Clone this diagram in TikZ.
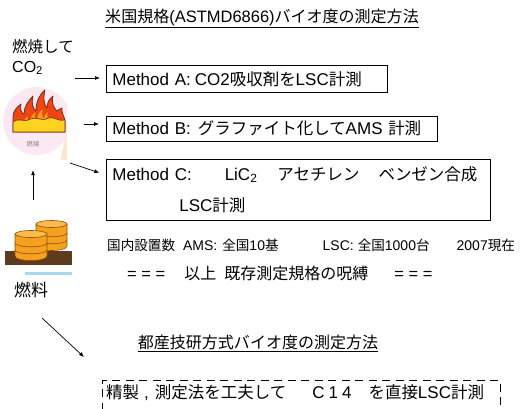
\documentclass[tikz,border=0pt]{standalone}
\usepackage{fontspec}
\setmainfont{Liberation Sans}
\newfontfamily\jpfont{Noto Sans CJK JP}[Scale=0.97]
\usepackage{xcolor}
\usetikzlibrary{arrows.meta,positioning}

\definecolor{flamered}{HTML}{F04412}
\definecolor{flameorange}{HTML}{FA9E1A}
\definecolor{flameyellow}{HTML}{FFD21F}
\definecolor{flameedge}{HTML}{6E3020}
\definecolor{blush}{HTML}{FCE8F3}
\definecolor{peach}{HTML}{FDE6CC}
\definecolor{barrel}{HTML}{F5A01E}
\definecolor{barreltop}{HTML}{FABB4A}
\definecolor{barreldark}{HTML}{8E5206}
\definecolor{soil}{HTML}{5E3B1F}
\definecolor{water}{HTML}{A6DAEA}

% outline of the fire, tips leaning right
\newcommand{\fireoutline}{(13,132) -- (13,117) .. controls (13,111) and (17,107) .. (21,104)
  .. controls (20,109) and (21,113) .. (24,114) .. controls (24,107) and (28,101) .. (33,96)
  .. controls (31,103) and (33,109) .. (36,111) .. controls (36,102) and (39,95) .. (45,90)
  .. controls (43,98) and (44,105) .. (47,108) .. controls (47,103) and (49,99) .. (53,96)
  .. controls (51,103) and (54,108) .. (57,111) .. controls (58,110) and (60,109) .. (62,108)
  .. controls (61,113) and (65,117) .. (65,122) -- (65,132) -- cycle}

\tikzset{
  heading/.style={font=\fontsize{16.5}{20}\selectfont, inner sep=0pt},
  methodbox/.style={draw, line width=0.8pt, inner xsep=6pt, inner ysep=0pt,
    align=left, font=\fontsize{17}{31}\selectfont},
  note/.style={font=\fontsize{14}{16}\selectfont, inner sep=0pt, anchor=west},
  feed/.style={-{Latex[length=5pt,width=4pt]}, line width=0.7pt},
  dashbox/.style={draw, line width=0.8pt, dash pattern=on 8pt off 5.5pt},
}

\begin{document}
\begin{tikzpicture}[>=Stealth, x=1pt, y=-1pt]
\useasboundingbox (0,0) rectangle (526,408);
\clip (0,0) rectangle (526,408);

% US standard heading
\node[heading] (us-title) at (262,18)
  {\underline{{\jpfont 米国規格}(ASTMD6866){\jpfont バイオ度の測定方法}}};

% burning picture
\begin{scope}
  \clip (0,80) rectangle (67,160);
  \fill[blush] (37,121) circle (34);
  \fill[peach] (61,160) .. controls (62,150) and (64,142) .. (67,136) -- (67,160) -- cycle;
\end{scope}
\draw[flameedge, fill=flamered, line width=0.8pt, line join=round] \fireoutline;
\begin{scope}[shift={(39,132)}, xscale=0.62, yscale=0.55, shift={(-39,-132)}]
  \fill[flameorange] \fireoutline;
\end{scope}
\draw[flameedge, fill=flameyellow, line width=0.7pt]
  (13,132) -- (13,122) .. controls (19,117) and (24,123) .. (30,119)
  .. controls (36,116) and (42,122) .. (48,118) .. controls (54,116) and (59,122) .. (65,120)
  -- (65,132) -- cycle;
\node[font=\fontsize{6.5}{7}\selectfont\jpfont, text=gray] (burn-tag) at (33,144) {燃焼};
\node[minimum width=66pt, minimum height=70pt, inner sep=0pt] (flame) at (33,121) {};

\node[font=\fontsize{16}{20}\selectfont, align=left, anchor=north west, inner sep=0pt]
  (co2) at (12,39) {{\jpfont 燃焼して}\\CO\textsubscript{2}};

% fuel barrels
\fill[soil] (5,251) rectangle (72,265);
\fill[water] (25,272) rectangle (72,275);
\draw[barreldark, fill=barrel, line width=0.6pt] (36,224) -- (36,246)
  .. controls (36,252) and (67,252) .. (67,246) -- (67,224) -- cycle;
\draw[barreldark, line width=0.6pt] (36,233) .. controls (36,238) and (67,238) .. (67,233)
  (36,240) .. controls (36,245) and (67,245) .. (67,240);
\draw[barreldark, fill=barreltop, line width=0.6pt] (51.5,224) ellipse [x radius=15.5, y radius=3.5];
\draw[barreldark, fill=barrel, line width=0.6pt] (15,234) -- (15,256)
  .. controls (15,262) and (47,262) .. (47,256) -- (47,234) -- cycle;
\draw[barreldark, line width=0.6pt] (15,243) .. controls (15,248) and (47,248) .. (47,243)
  (15,250) .. controls (15,255) and (47,255) .. (47,250);
\draw[barreldark, fill=barreltop, line width=0.6pt] (31,234) ellipse [x radius=16, y radius=3.5];
\node[minimum width=66pt, minimum height=50pt, inner sep=0pt] (barrels) at (33,245) {};
\node[font=\fontsize{17.5}{20}\selectfont\jpfont, inner sep=0pt] (fuel) at (31,290) {燃料};

% existing methods
\node[methodbox, anchor=north west, text width=269pt, minimum height=27pt] (meth-a) at (106,65)
  {Method A:\hspace{4pt}CO2{\jpfont 吸収剤を}LSC{\jpfont 計測}};
\node[methodbox, below=23pt of meth-a.south west, anchor=north west, text width=319pt,
  minimum height=25pt] (meth-b)
  {Method B:\hspace{7pt}{\jpfont グラファイト化して}AMS {\jpfont 計測}};
\node[methodbox, below=17pt of meth-b.south west, anchor=north west, text width=372pt,
  minimum height=61pt] (meth-c)
  {Method C:\hspace{33pt}LiC\textsubscript{2}\hspace{20pt}{\jpfont アセチレン}\hspace{19pt}{\jpfont ベンゼン合成}\\
   \hspace*{67pt}LSC{\jpfont 計測}};

\coordinate (a-tail) at (75,78);
\coordinate (b-tail) at (84,124);
\coordinate (c-tail) at (70,163);
\draw[feed, shorten >=6pt] (a-tail) -- (meth-a.west |- a-tail);
\draw[feed, shorten >=7pt] (b-tail) -- (meth-b.west |- b-tail);
\draw[feed, shorten >=7pt] (c-tail) -- ([yshift=14.5pt]meth-c.west);
\draw[feed, shorten <=20pt, shorten >=14pt] (barrels.north) -- (flame.south);

\node[note] (count) at (107,245)
  {{\jpfont 国内設置数}\hspace{8pt}AMS:\hspace{5pt}{\jpfont 全国}10{\jpfont 基}\hspace{44pt}LSC:\hspace{4pt}{\jpfont 全国}1000{\jpfont 台}\hspace{27pt}2007{\jpfont 現在}};
\node[note, font=\fontsize{16.5}{18}\selectfont] (bind) at (127,273)
  {=\ =\ =\hspace{19pt}{\jpfont 以上}\hspace{8pt}{\jpfont 既存測定規格の呪縛}\hspace{26pt}=\ =\ =};

% in-house method
\node[heading, font=\fontsize{16.5}{20}\selectfont\jpfont] (tiri-title) at (258,343)
  {\underline{都産技研方式バイオ度の測定方法}};
\coordinate (d-tail) at (42,318);
\coordinate (d-head) at (84,357);
\draw[feed] (d-tail) -- (d-head);
\draw[dashbox] (102,424) -- (102,380) -- (500,380) -- (500,424);
\node[note, font=\fontsize{17}{20}\selectfont] (direct) at (106,393)
  {{\jpfont 精製}\hspace{5pt},\hspace{6pt}{\jpfont 測定法を工夫して}\hspace{26pt}C\hspace{4pt}1\hspace{4pt}4\hspace{17pt}{\jpfont を直接}LSC{\jpfont 計測}};
\end{tikzpicture}
\end{document}
